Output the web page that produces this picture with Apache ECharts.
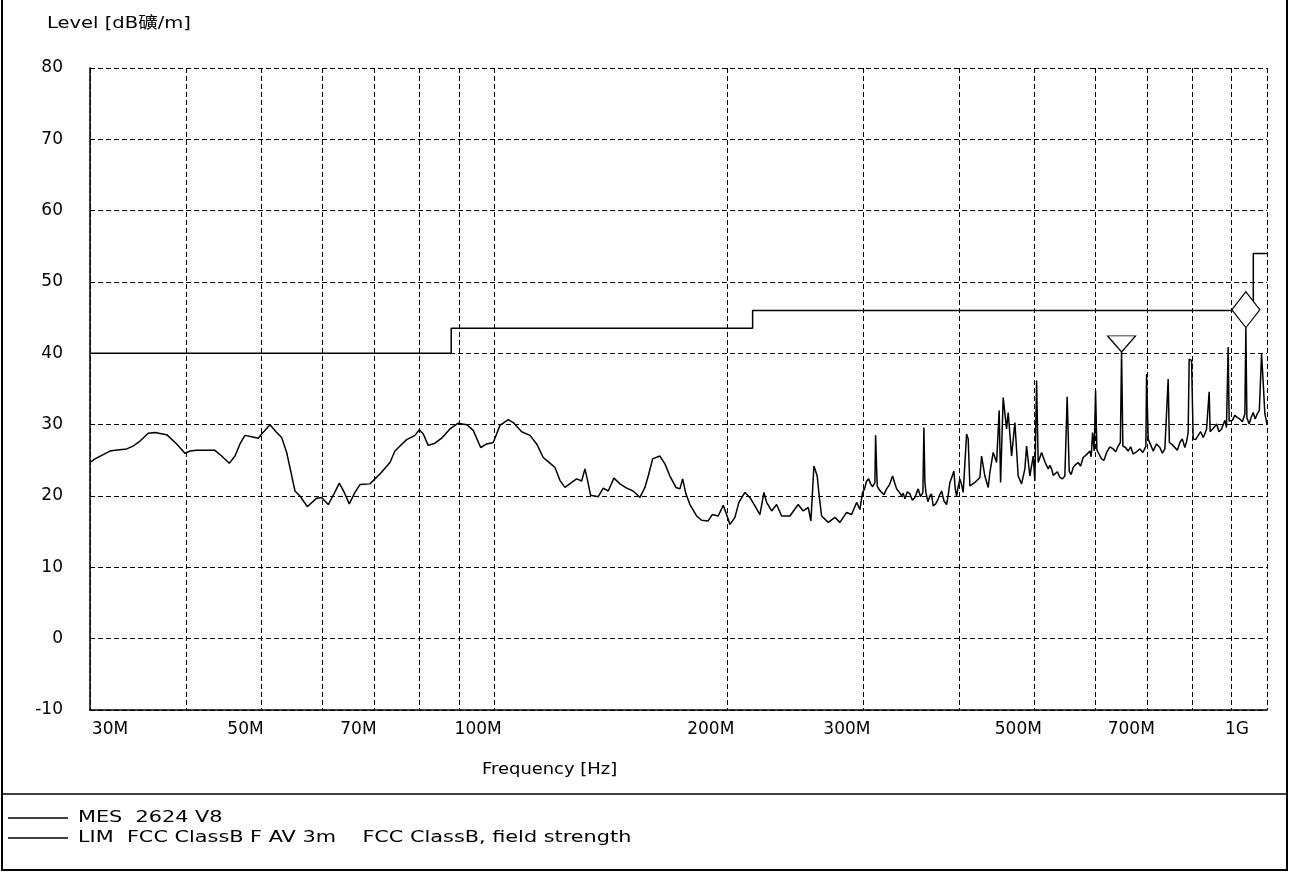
<!DOCTYPE html>
<html>
<head>
<meta charset="utf-8">
<script src="https://cdn.jsdelivr.net/npm/echarts@6/dist/echarts.min.js"></script>
<style>
html,body{margin:0;padding:0;background:#fff;}
#chart{width:1289px;height:872px;}
</style>
</head>
<body>
<div id="chart"></div>
<script>
// ---- data (frequency in MHz, level in dBµV/m) ----
const yTitle = 'Level [dB礦/m]';
const xTitle = 'Frequency [Hz]';
const mesName = 'MES  2624 V8';
const limName = 'LIM  FCC ClassB F AV 3m    FCC ClassB, field strength';

const gridFreqs = [30, 40, 50, 60, 70, 80, 90, 100, 200, 300, 400, 500, 600, 700, 800, 900, 1000];
const labelFreqs = [30, 50, 70, 100, 200, 300, 500, 700, 1000];

const limPoints = [[30, 40], [88, 40], [88, 43.5], [216, 43.5], [216, 46], [960, 46], [960, 54], [1000, 54]];

const markerPoints = [[648.39, 40.2], [938.97, 43.6]];
const markerSymbols = ['triangle', 'diamond'];

const mesPoints = [
[30.00,24.7],[30.45,25.2],[31.84,26.3],[32.32,26.4],[33.47,26.6],[34.10,27.0],[34.82,27.7],[35.69,28.8],[36.41,28.9],
[37.70,28.6],[38.84,27.3],[39.81,26.0],[40.41,26.3],[41.22,26.4],[43.53,26.4],[44.41,25.6],[45.43,24.6],[46.21,25.6],
[46.90,27.3],[47.60,28.5],[48.56,28.3],[49.53,28.1],[50.03,28.7],[51.29,30.0],[52.21,29.0],[53.10,28.2],[53.90,26.1],
[54.60,23.3],[55.25,20.7],[56.08,20.0],[57.31,18.5],[58.94,19.7],[59.82,19.8],[61.01,18.8],[62.06,20.3],[63.05,21.8],
[63.99,20.5],[64.95,18.9],[66.06,20.5],[67.06,21.6],[69.08,21.7],[71.17,23.1],[73.32,24.7],[74.42,26.3],[75.54,27.0],
[77.06,27.9],[78.99,28.5],[80.01,29.3],[80.97,28.7],[82.18,27.1],[83.84,27.4],[85.53,28.1],[87.67,29.4],[89.87,30.2],
[92.14,30.0],[93.97,29.2],[96.07,26.8],[97.80,27.3],[99.74,27.5],[101.75,29.9],[104.30,30.7],[105.86,30.3],[108.55,29.0],
[111.26,28.5],[113.51,27.3],[115.76,25.4],[118.09,24.6],[119.87,24.0],[121.66,22.2],[123.49,21.2],[125.98,21.9],[127.87,22.4],
[129.79,22.1],[131.07,23.8],[131.97,22.4],[133.31,20.1],[136.37,19.9],[138.41,21.1],[140.49,20.7],[142.90,22.5],[145.47,21.7],
[148.41,21.1],[151.35,20.7],[154.40,19.8],[156.72,21.2],[158.27,22.8],[160.36,25.2],[163.88,25.6],[166.34,24.5],[168.84,22.8],
[171.88,21.2],[173.94,21.0],[175.35,22.4],[177.08,20.3],[179.20,18.8],[182.81,17.2],[185.56,16.6],[189.24,16.5],[191.51,17.4],
[194.96,17.2],[197.89,18.7],[199.90,17.4],[201.88,16.0],[204.91,17.0],[207.36,19.1],[211.10,20.5],[214.27,19.8],[217.49,18.6],
[220.75,17.4],[223.40,20.5],[225.20,19.1],[228.58,17.9],[232.01,18.8],[235.49,17.2],[241.38,17.2],[247.43,18.8],[251.14,17.9],
[254.91,18.4],[256.97,16.5],[259.27,24.2],[261.83,22.8],[263.40,20.0],[265.29,17.2],[270.56,16.3],[276.01,17.0],[280.15,16.3],
[285.80,17.7],[290.09,17.4],[294.44,19.1],[297.35,18.1],
[299.75,20.5],[301.5,21.0],[303.34,22.1],[305.2,22.4],[306.98,21.7],[308.9,21.3],[310.94,21.9],[311.59,28.5],[313.07,21.4],
[315.0,20.9],[317.21,20.5],[319.5,20.2],[321.97,21.0],[324.8,21.6],[327.77,22.8],[329.7,21.9],[331.70,21.0],[334.0,20.6],
[336.68,20.0],[338.3,20.4],[340.00,19.6],[342.5,20.6],[345.11,20.3],[347.7,19.4],[350.29,19.8],[352.0,20.4],[353.75,21.0],
[356.2,19.9],[358.73,20.5],[359.80,29.6],[360.88,22.0],[361.96,20.5],[364.1,19.2],[366.29,20.0],[368.0,20.3],[369.91,18.6],
[372.7,18.9],[375.46,19.6],[377.3,20.2],[379.29,20.7],[382.0,19.3],[384.98,18.8],[386.8,20.1],[388.78,21.9],[390.9,22.6],
[393.44,23.5],[395.0,21.0],[396.62,20.0],[398.5,21.3],[400.54,22.4],[402.5,21.6],[404.49,20.5],[408.61,28.7],[410.56,28.0],
[412.64,21.4],[418.84,21.9],[425.12,22.6],[427.28,25.6],[431.50,22.8],[435.77,21.2],[437.98,23.3],[442.31,26.1],[446.81,24.7],
[450.28,32.0],[452.16,21.9],[455.68,33.8],[460.32,29.4],[462.52,31.7],[467.23,25.6],[471.84,30.3],[476.50,22.8],[481.35,21.7],
[486.11,23.8],[488.57,27.0],[493.40,22.8],[498.28,25.6],[500.81,22.1],[503.35,36.2],[505.76,24.7],[510.91,26.1],[515.95,24.8],
[518.5,25.0],[521.05,23.8],[523.7,24.3],[526.35,23.8],[529.0,22.9],[531.55,23.1],[535.5,23.4],[539.53,22.6],[543.6,22.4],
[547.62,22.8],[551.39,33.9],[554.69,23.5],[557.9,23.0],[561.34,24.0],[565.5,24.4],[569.76,24.7],[573.9,24.2],[578.31,25.4],
[584.1,25.8],[589.97,26.3],[592.3,25.5],[594.73,28.9],[597.57,26.3],[600.07,34.8],[602.40,26.5],[604.73,26.1],[607.8,25.9],
[610.89,25.2],[615.4,25.0],[620.06,26.1],[626.2,26.9],[632.37,26.6],[637.1,26.2],[641.86,27.0],[646.08,27.5],[648.39,40.2],
[650.91,27.0],[656.0,26.8],[661.26,26.3],[666.2,26.9],[671.19,25.9],[678.0,26.2],[684.72,26.6],[690.9,26.1],[697.07,27.0],
[698.53,37.1],[701.86,28.0],[706.9,27.2],[712.40,26.3],[719.5,27.3],[726.76,26.8],[732.2,26.0],[737.66,26.6],[744.95,36.4],
[747.62,27.5],[753.8,27.2],[759.97,26.8],[765.6,26.4],[771.37,27.5],[776.9,28.0],[782.95,26.8],[786.8,27.6],[790.68,28.9],
[793.04,39.2],[798.73,39.0],[802.55,28.0],[808.5,27.9],[814.59,28.5],[820.7,29.0],[826.81,28.2],[830.9,28.7],[835.23,29.4],
[841.72,34.6],[844.23,29.0],[847.76,28.9],[853.9,29.6],[860.49,30.1],[866.9,29.0],[873.40,29.4],[877.7,30.0],[882.03,30.6],
[886.3,29.6],[890.74,40.9],[893.40,30.5],[895.26,30.3],[901.9,30.6],[908.70,31.3],[915.5,31.0],[922.33,30.8],[929.2,30.4],
[936.17,31.5],[938.97,43.6],[941.77,31.0],[948.24,30.1],[953.9,31.0],[959.61,31.7],[965.3,30.8],[971.11,31.5],[977.4,32.0],
[983.92,39.9],[988.62,36.0],[993.64,31.5],[1000.0,30.1]
];

// ---- chart ----
const FONT = '"DejaVu Sans", "Liberation Sans", "Noto Sans CJK SC", sans-serif';
const chart = echarts.init(document.getElementById('chart'), null, {renderer: 'canvas'});

function fmtFreq(v) {
  return v >= 1000 ? (v / 1000) + 'G' : v + 'M';
}

const dashed = {color: '#000', width: 1, type: [5, 3]};

const option = {
  animation: false,
  backgroundColor: '#fff',
  grid: {left: 90, right: 22, top: 68, bottom: 162, containLabel: false},
  xAxis: {
    type: 'log', logBase: 10, min: 30, max: 1000,
    axisLine: {show: true, onZero: false, lineStyle: {color: '#000', width: 1.5}},
    axisTick: {show: false, customValues: gridFreqs},
    splitLine: {show: true, lineStyle: dashed},
    axisLabel: {
      customValues: labelFreqs,
      showMinLabel: true, showMaxLabel: true,
      margin: 11, color: '#000', fontFamily: FONT, fontSize: 17,
      formatter: function (v) {
        const t = fmtFreq(v);
        if (v === 30) return '{a|' + t + '}';
        if (v === 1000) return '{c|' + t + '}';
        return '{b|' + t + '}';
      },
      rich: {
        a: {padding: [0, 0, 0, 40], fontFamily: FONT, fontSize: 17, color: '#000'},
        b: {padding: [0, 32, 0, 0], fontFamily: FONT, fontSize: 17, color: '#000'},
        c: {padding: [0, 60, 0, 0], fontFamily: FONT, fontSize: 17, color: '#000'}
      }
    }
  },
  yAxis: {
    type: 'value', min: -10, max: 80, interval: 10,
    axisLine: {show: true, onZero: false, lineStyle: {color: '#000', width: 1.5}},
    axisTick: {show: true, inside: true, length: 3, lineStyle: {color: '#000'}},
    splitLine: {show: true, lineStyle: dashed},
    axisLabel: {margin: 27, color: '#000', fontFamily: FONT, fontSize: 17}
  },
  series: [
    {
      name: mesName, type: 'line', data: mesPoints, showSymbol: false, symbol: 'none',
      lineStyle: {color: '#000', width: 1.5}, z: 3
    },
    {
      name: limName, type: 'line', data: limPoints, showSymbol: false, symbol: 'none',
      lineStyle: {color: '#000', width: 1.5}, z: 3
    },
    {
      name: 'markers', type: 'scatter', z: 5,
      data: markerPoints.map(function (p, i) {
        const tri = markerSymbols[i] === 'triangle';
        return {
          value: p,
          symbol: tri ? 'path://M0,0 L28,0 L14,16 Z' : 'diamond',
          symbolSize: tri ? [28, 16] : [28, 36],
          symbolOffset: [0, '-50%']
        };
      }),
      itemStyle: {color: '#fff', borderColor: '#000', borderWidth: 1.2, opacity: 1}
    }
  ],
  graphic: [
    {type: 'rect', shape: {x: 2, y: -2, width: 1285, height: 872}, style: {fill: 'none', stroke: '#000', lineWidth: 2}, silent: true},
    {type: 'line', shape: {x1: 2, y1: 794, x2: 1287, y2: 794}, style: {stroke: '#000', lineWidth: 1.5}, silent: true},
    {type: 'text', x: 47, y: 24, scaleX: 1.22, style: {text: yTitle, x: 0, y: 0, verticalAlign: 'middle', align: 'left', fontFamily: FONT, fontSize: 16, fill: '#000'}},
    {type: 'text', x: 482, y: 770, scaleX: 1.12, style: {text: xTitle, x: 0, y: 0, verticalAlign: 'middle', align: 'left', fontFamily: FONT, fontSize: 16, fill: '#000'}},
    {type: 'line', shape: {x1: 8, y1: 818, x2: 68, y2: 818}, style: {stroke: '#000', lineWidth: 1.5}},
    {type: 'text', x: 78, y: 818, scaleX: 1.3, style: {text: mesName, x: 0, y: 0, verticalAlign: 'middle', align: 'left', fontFamily: FONT, fontSize: 16, fill: '#000'}},
    {type: 'line', shape: {x1: 8, y1: 838, x2: 68, y2: 838}, style: {stroke: '#000', lineWidth: 1.5}},
    {type: 'text', x: 78, y: 838, scaleX: 1.3, style: {text: limName, x: 0, y: 0, verticalAlign: 'middle', align: 'left', fontFamily: FONT, fontSize: 16, fill: '#000'}}
  ]
};
chart.setOption(option);
</script>
</body>
</html>
